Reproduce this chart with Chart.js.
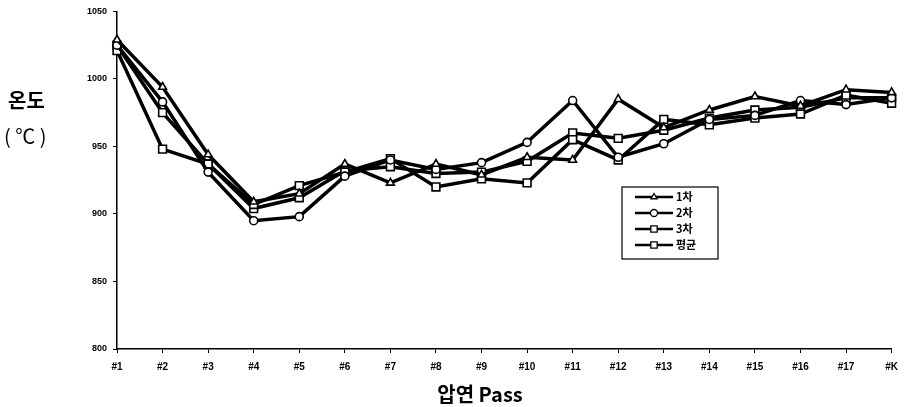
<!DOCTYPE html>
<html>
<head>
<meta charset="utf-8">
<script src="https://cdn.jsdelivr.net/npm/chart.js@4.4.0/dist/chart.umd.min.js"></script>
<style>
  html, body { margin: 0; padding: 0; background: #fff; }
  #wrap { position: relative; width: 906px; height: 407px; }
</style>
</head>
<body>
<div id="wrap"><canvas id="graficoPass"></canvas></div>
<script>
// 압연 Pass 별 온도
const passes = ["#1", "#2", "#3", "#4", "#5", "#6", "#7", "#8", "#9", "#10", "#11", "#12", "#13", "#14", "#15", "#16", "#17", "#K"];
const cha1 = [1029, 994, 944, 909, 915, 937, 923, 937, 929, 942, 940, 985, 964, 977, 987, 980, 992, 990];
const cha2 = [1025, 983, 931, 895, 898, 928, 940, 933, 938, 953, 984, 942, 952, 970, 973, 984, 981, 986];
const cha3 = [1021, 948, 937, 907, 921, 931, 941, 920, 926, 923, 955, 940, 970, 966, 971, 974, 988, 982];
const pyeonggyun = [1025, 975, 937, 904, 912, 932, 935, 930, 931, 939, 960, 956, 962, 971, 977, 979, 986, 986];
const yTicks = [800, 850, 900, 950, 1000, 1050];

const raio = { triangle: 4.5, circle: 4, rect: 5.5 };

function serie(label, data, shape) {
    return {
        label: label,
        data: data,
        borderColor: "#000",
        borderWidth: 3.5,
        backgroundColor: "#fff",
        pointStyle: shape,
        pointRadius: raio[shape],
        pointBorderWidth: 1.6,
        pointBackgroundColor: "#fff",
        pointBorderColor: "#000",
        tension: 0
    };
}

// legenda dentro do gráfico + títulos horizontais
const extras = {
    id: "extras",
    afterDraw(chart) {
        const ctx = chart.ctx;
        ctx.save();
        // caixa da legenda
        const bx = 622, by = 187, bw = 96, bh = 72;
        ctx.strokeStyle = "#000";
        ctx.lineWidth = 1.2;
        ctx.strokeRect(bx, by, bw, bh);
        chart.data.datasets.forEach((ds, i) => {
            const y = 197 + i * 16;
            ctx.strokeStyle = "#000";
            ctx.lineWidth = 2.5;
            ctx.beginPath();
            ctx.moveTo(635, y);
            ctx.lineTo(673, y);
            ctx.stroke();
            ctx.fillStyle = "#fff";
            ctx.lineWidth = 1.3;
            Chart.helpers.drawPoint(ctx, { pointStyle: ds.pointStyle, radius: ds.pointStyle === "rect" ? 4.5 : 3.5, rotation: 0, borderWidth: 1.3 }, 654, y);
            ctx.fillStyle = "#000";
            ctx.font = "bold 11px 'Noto Sans CJK KR'";
            ctx.textAlign = "left";
            ctx.textBaseline = "middle";
            ctx.fillText(ds.label, 676, y);
        });
        // título do eixo Y
        ctx.fillStyle = "#000";
        ctx.font = "bold 20px 'Noto Sans CJK KR'";
        ctx.textAlign = "left";
        ctx.textBaseline = "middle";
        ctx.fillText("온도", 8, 100);
        ctx.font = "20px 'Noto Sans CJK KR'";
        ctx.fillText("( ℃ )", 4, 136);
        // título do eixo X
        ctx.textAlign = "center";
        ctx.font = "bold 20px 'Noto Sans CJK KR'";
        ctx.fillText("압연 Pass", 480, 394);
        ctx.restore();
    }
};

new Chart(document.getElementById("graficoPass").getContext("2d"), {
    type: "line",
    data: {
        labels: passes,
        datasets: [
            serie("1차", cha1, "triangle"),
            serie("2차", cha2, "circle"),
            serie("3차", cha3, "rect"),
            serie("평균", pyeonggyun, "rect")
        ]
    },
    options: {
        responsive: true,
        maintainAspectRatio: false,
        animation: false,
        layout: { padding: { left: 0, right: 13, top: 9, bottom: 0 } },
        plugins: { legend: { display: false }, tooltip: { enabled: false } },
        scales: {
            x: {
                offset: false,
                afterFit: (s) => { s.height = 58; },
                grid: { drawOnChartArea: false, color: "#000", tickLength: 4 },
                border: { color: "#000", width: 1.5 },
                ticks: { color: "#000", padding: 8, maxRotation: 0, autoSkip: false,
                         font: { family: "Liberation Sans", size: 10, weight: "bold" } }
            },
            y: {
                min: 800,
                max: 1050,
                afterFit: (s) => { s.width = 117; },
                afterBuildTicks: (s) => { s.ticks = yTicks.map(v => ({ value: v })); },
                grid: { drawOnChartArea: false, color: "#000", tickLength: 4 },
                border: { color: "#000", width: 1.5 },
                ticks: { color: "#000", padding: 6,
                         callback: (v) => String(v),
                         font: { family: "Liberation Sans", size: 9, weight: "bold" } }
            }
        }
    },
    plugins: [extras]
});
</script>
</body>
</html>
